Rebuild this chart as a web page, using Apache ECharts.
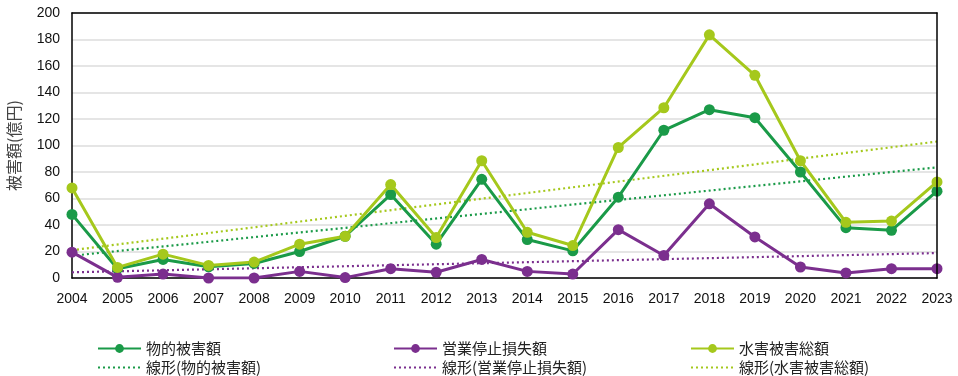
<!DOCTYPE html>
<html>
<head>
<meta charset="utf-8">
<script src="https://cdn.jsdelivr.net/npm/echarts@6/dist/echarts.min.js"></script>
<style>
  html, body { margin: 0; padding: 0; background: #fff; }
  #main { width: 958px; height: 376px; }
</style>
</head>
<body>
<div id="main"></div>
<script>
// 年
var years = ['2004','2005','2006','2007','2008','2009','2010','2011','2012','2013',
             '2014','2015','2016','2017','2018','2019','2020','2021','2022','2023'];

// 物的被害額(億円)
var butekiData = [48, 7, 14, 8.5, 11, 20, 31.5, 63, 25.5, 74.5,
                  29, 20.5, 61, 111.5, 127, 121, 80, 38, 36, 65.5];
// 営業停止損失額
var eigyoData = [19.5, 0.5, 3, 0, 0, 5, 0.3, 7, 4.3, 14,
                 5, 3, 36.5, 17, 56, 31, 8.3, 3.8, 7, 7];
// 水害被害総額
var totalData = [68, 8, 18, 9.5, 12, 25.5, 31.5, 70.5, 30.5, 88.5,
                 34.5, 24.5, 98.5, 128.5, 183.5, 153, 88.5, 42, 43, 72.5];

// 線形近似の両端(図から読んだ値)
var butekiTrendEnds = [16.8, 83.5];
var eigyoTrendEnds = [4.3, 18.8];
var totalTrendEnds = [21, 103];

var yTicks = { min: 0, max: 200, interval: 20 };

var cGreen = '#1a9a48';
var cPurple = '#7b2f8e';
var cLime = '#a5c81c';

function trendData(ends) {
    // 始点と終点だけ置いて残りはnull
    var arr = [];
    for (var i = 0; i < years.length; i++) arr.push(null);
    arr[0] = ends[0];
    arr[years.length - 1] = ends[1];
    return arr;
}

function mainLine(name, data, color) {
    return {
        name: name,
        type: 'line',
        data: data,
        symbol: 'circle',
        symbolSize: 11,
        lineStyle: { color: color, width: 3 },
        itemStyle: { color: color },
        z: 3
    };
}

function trendLine(name, ends, color) {
    return {
        name: name,
        type: 'line',
        data: trendData(ends),
        connectNulls: true,
        symbol: 'none',
        showSymbol: false,
        lineStyle: { color: color, width: 2.2, type: [2, 3] },
        itemStyle: { color: color },
        z: 2
    };
}

var legendText = { fontFamily: '"Noto Sans CJK JP", sans-serif', fontSize: 15, color: '#222' };

function legendOne(left, top, name, isTrend) {
    var item = { name: name };
    if (isTrend) item.itemStyle = { opacity: 0 };
    return {
        left: left,
        top: top,
        itemWidth: 43,
        itemHeight: 11,
        itemGap: 4,
        textStyle: legendText,
        data: [item]
    };
}

var chart = echarts.init(document.getElementById('main'));
var option = {
    animation: false,
    backgroundColor: '#fff',
    grid: {
        left: 72, right: 21, top: 13, bottom: 98,
        outerBoundsMode: 'none'
    },
    legend: [
        legendOne(92, 336, '物的被害額', false),
        legendOne(92, 355, '線形(物的被害額)', true),
        legendOne(388, 336, '営業停止損失額', false),
        legendOne(388, 355, '線形(営業停止損失額)', true),
        legendOne(685, 336, '水害被害総額', false),
        legendOne(685, 355, '線形(水害被害総額)', true)
    ],
    xAxis: [{
        type: 'category',
        data: years,
        boundaryGap: false,
        axisLine: { lineStyle: { color: '#000', width: 1.5 } },
        axisTick: { show: false },
        axisLabel: {
            fontFamily: '"Liberation Sans", Arial, sans-serif',
            fontSize: 14, color: '#111', margin: 14
        }
    }, {
        type: 'category',
        position: 'top',
        data: years,
        boundaryGap: false,
        z: 10,
        axisLine: { onZero: false, lineStyle: { color: '#000', width: 1.5 } },
        axisTick: { show: false },
        axisLabel: { show: false }
    }],
    yAxis: [{
        type: 'value',
        min: yTicks.min,
        max: yTicks.max,
        interval: yTicks.interval,
        name: '被害額(億円)',
        nameLocation: 'middle',
        nameRotate: 90,
        nameGap: 50,
        nameTextStyle: { fontFamily: '"Noto Sans CJK JP", sans-serif', fontSize: 16, color: '#444' },
        axisLine: { show: true, lineStyle: { color: '#000', width: 1.5 } },
        axisTick: { show: false },
        splitLine: { lineStyle: { color: '#dcdcdc', width: 1.5 } },
        axisLabel: {
            fontFamily: '"Liberation Sans", Arial, sans-serif',
            fontSize: 14, color: '#111', margin: 12
        }
    }, {
        type: 'value',
        position: 'right',
        min: yTicks.min,
        max: yTicks.max,
        interval: yTicks.interval,
        z: 10,
        axisLine: { show: true, onZero: false, lineStyle: { color: '#000', width: 1.5 } },
        axisTick: { show: false },
        splitLine: { show: false },
        axisLabel: { show: false }
    }],
    series: [
        mainLine('物的被害額', butekiData, cGreen),
        mainLine('営業停止損失額', eigyoData, cPurple),
        mainLine('水害被害総額', totalData, cLime),
        trendLine('線形(物的被害額)', butekiTrendEnds, cGreen),
        trendLine('線形(営業停止損失額)', eigyoTrendEnds, cPurple),
        trendLine('線形(水害被害総額)', totalTrendEnds, cLime)
    ]
};
chart.setOption(option);
</script>
</body>
</html>
